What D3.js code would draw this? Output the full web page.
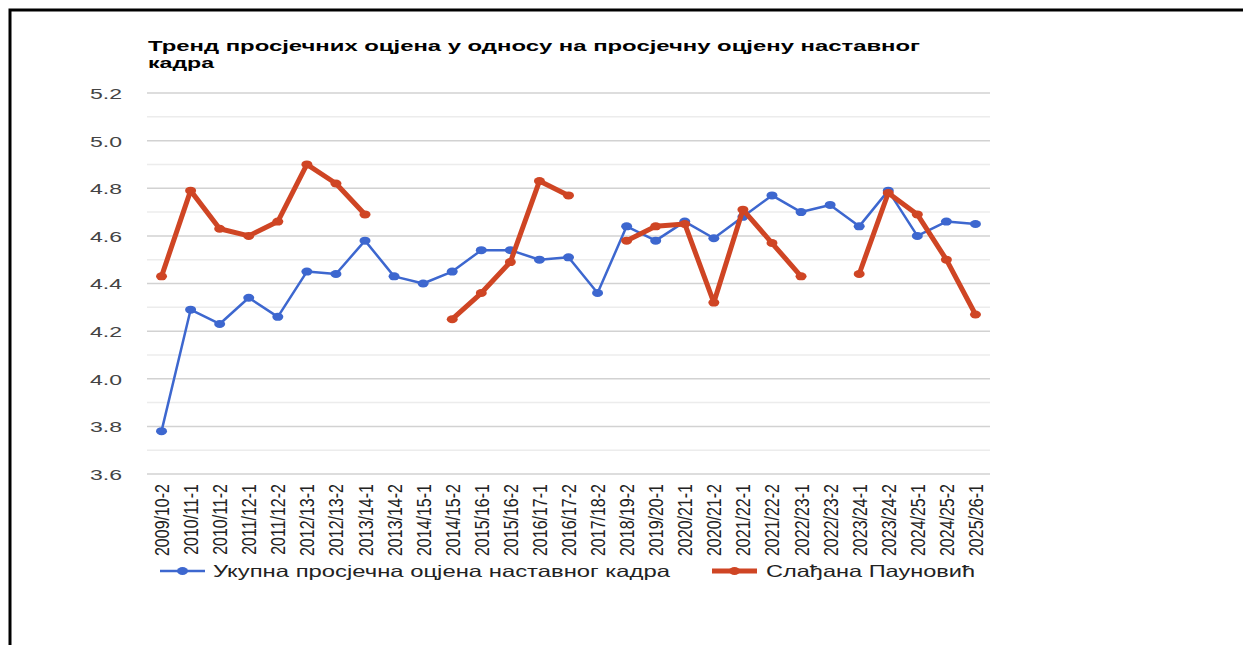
<!DOCTYPE html>
<html><head><meta charset="utf-8">
<script src="https://cdn.jsdelivr.net/npm/d3@7"></script>
<style>body{margin:0;background:#fff}svg{display:block}text{font-family:"Liberation Sans",Arial,sans-serif}</style>
</head><body><svg id="c" width="1243" height="645"></svg>
<script>
const categories = ["2009/10-2","2010/11-1","2010/11-2","2011/12-1","2011/12-2","2012/13-1","2012/13-2","2013/14-1","2013/14-2","2014/15-1","2014/15-2","2015/16-1","2015/16-2","2016/17-1","2016/17-2","2017/18-2","2018/19-2","2019/20-1","2020/21-1","2020/21-2","2021/22-1","2021/22-2","2022/23-1","2022/23-2","2023/24-1","2023/24-2","2024/25-1","2024/25-2","2025/26-1"];
const staffAvg = [3.78,4.29,4.23,4.34,4.26,4.45,4.44,4.58,4.43,4.40,4.45,4.54,4.54,4.50,4.51,4.36,4.64,4.58,4.66,4.59,4.68,4.77,4.70,4.73,4.64,4.79,4.60,4.66,4.65];
const teacher = [4.43,4.79,4.63,4.60,4.66,4.90,4.82,4.69,null,null,4.25,4.36,4.49,4.83,4.77,null,4.58,4.64,4.65,4.32,4.71,4.57,4.43,null,4.44,4.78,4.69,4.50,4.27];
const yTicks = [3.6,3.8,4.0,4.2,4.4,4.6,4.8,5.0,5.2];
const minorTicks = [3.7,3.9,4.1,4.3,4.5,4.7,4.9,5.1];
const seriesNames = ["Укупна просјечна оцјена наставног кадра","Слађана Пауновић"];
const titleLines = ["Тренд просјечних оцјена у односу на просјечну оцјену наставног","кадра"];

const BLUE="#3d67cf", RED="#cf4524";
const svg = d3.select("#c");
svg.append("path").attr("d","M10,645V10H1243").attr("fill","none").attr("stroke","#000").attr("stroke-width",3);

const x = d3.scaleBand().domain(categories).range([147,990]);
const y = d3.scaleLinear().domain([3.6,5.2]).range([474,93]);
const cx = d => x(d)+x.bandwidth()/2;

// title
svg.append("text").attr("x",148).attr("y",51).attr("font-size",15).attr("font-weight","bold")
  .attr("textLength",772).attr("lengthAdjust","spacingAndGlyphs").text(titleLines[0]);
svg.append("text").attr("x",148).attr("y",68).attr("font-size",15).attr("font-weight","bold")
  .attr("textLength",66).attr("lengthAdjust","spacingAndGlyphs").text(titleLines[1]);

// grid
svg.append("g").selectAll("line").data(minorTicks).join("line")
  .attr("x1",147).attr("x2",990).attr("y1",d=>y(d)).attr("y2",d=>y(d)).attr("stroke","#ececec").attr("stroke-width",1.5);
svg.append("g").selectAll("line").data(yTicks).join("line")
  .attr("x1",147).attr("x2",990).attr("y1",d=>y(d)).attr("y2",d=>y(d)).attr("stroke","#d2d2d2").attr("stroke-width",1.5);

// y labels
const yAxis = d3.axisLeft(y).tickValues(yTicks).tickFormat(d3.format(".1f")).tickSize(0).tickPadding(0);
const yg = svg.append("g").attr("transform","translate(122,0)").call(yAxis);
yg.select(".domain").remove();
yg.selectAll("text").attr("font-size",15).attr("fill","#444").attr("font-family","Liberation Sans, Arial, sans-serif")
  .attr("textLength",32).attr("lengthAdjust","spacingAndGlyphs").attr("dy","0.36em");

// x labels
svg.append("g").selectAll("text").data(categories).join("text")
  .attr("transform",d=>`translate(${cx(d)},484) scale(1.3,1) rotate(-90)`)
  .attr("text-anchor","end").attr("dy","0.36em").attr("font-size",16).attr("fill","#222").text(d=>d);

// lines
function drawSeries(vals,color,lw,rx,ry){
  const pts = categories.map((c,i)=>({c,v:vals[i]}));
  const line = d3.line().defined(d=>d.v!=null).x(d=>cx(d.c)).y(d=>y(d.v));
  svg.append("path").datum(pts).attr("d",line).attr("fill","none").attr("stroke",color).attr("stroke-width",lw).attr("stroke-linejoin","round");
  svg.append("g").selectAll("ellipse").data(pts.filter(d=>d.v!=null)).join("ellipse")
    .attr("cx",d=>cx(d.c)).attr("cy",d=>y(d.v)).attr("rx",rx).attr("ry",ry).attr("fill",color);
}
drawSeries(staffAvg,BLUE,2.5,5.5,4);
drawSeries(teacher,RED,5,5.5,4);

// legend
const leg = [{n:seriesNames[0],c:BLUE,lw:2.5,x0:160,tx:213,tl:457},{n:seriesNames[1],c:RED,lw:5,x0:712,tx:766,tl:209}];
leg.forEach(l=>{
  svg.append("line").attr("x1",l.x0).attr("x2",l.x0+45).attr("y1",571).attr("y2",571).attr("stroke",l.c).attr("stroke-width",l.lw);
  svg.append("ellipse").attr("cx",l.x0+22.5).attr("cy",571).attr("rx",5.5).attr("ry",4).attr("fill",l.c);
  svg.append("text").attr("x",l.tx).attr("y",577).attr("font-size",16.5).attr("fill","#222")
    .attr("textLength",l.tl).attr("lengthAdjust","spacingAndGlyphs").text(l.n);
});
</script></body></html>
